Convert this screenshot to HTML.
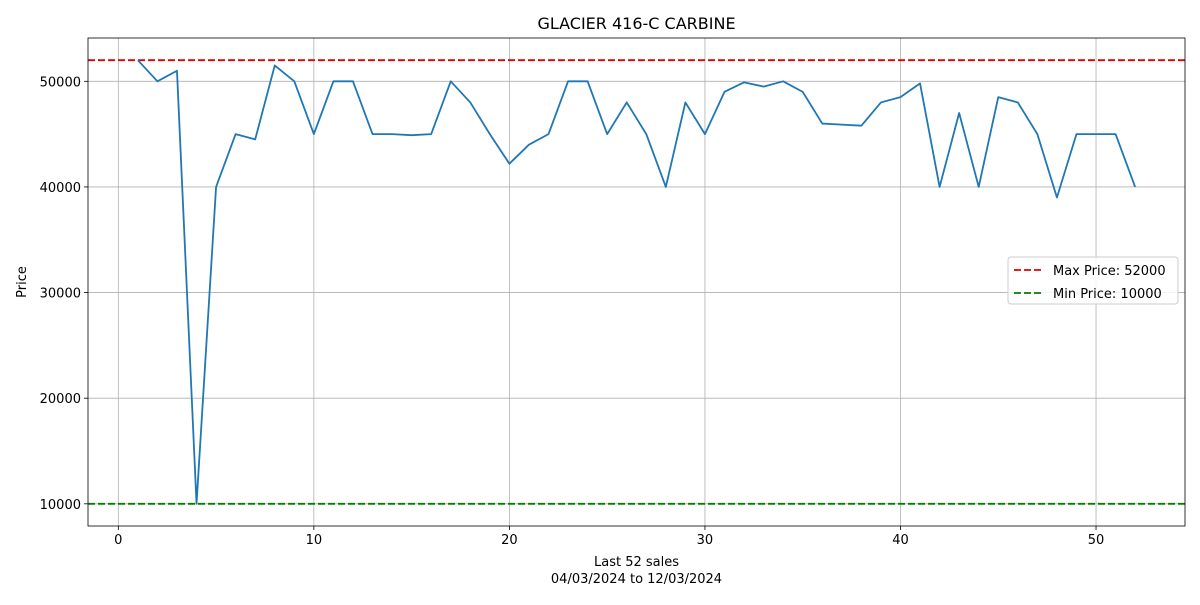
<!DOCTYPE html>
<html><head><meta charset="utf-8"><style>
body{margin:0;background:#fff;font-family:"Liberation Sans","DejaVu Sans",sans-serif;}
svg text{font-family:"DejaVu Sans","Liberation Sans",sans-serif;}
</style></head><body>
<svg id="chart" width="1200" height="600" xmlns="http://www.w3.org/2000/svg"></svg>
<script>
const sales = [1,2,3,4,5,6,7,8,9,10,11,12,13,14,15,16,17,18,19,20,21,22,23,24,25,26,27,28,29,30,31,32,33,34,35,36,37,38,39,40,41,42,43,44,45,46,47,48,49,50,51,52];
const prices = [52000,50000,51000,10000,40000,45000,44500,51500,50000,45000,50000,50000,45000,45000,44900,45000,50000,48000,45000,42200,44000,45000,50000,50000,45000,48000,45000,40000,48000,45000,49000,49900,49500,50000,49000,46000,45900,45800,48000,48500,49800,40000,47000,40000,48500,48000,45000,39000,45000,45000,45000,40000];
const xTicks = [0,10,20,30,40,50];
const yTicks = [10000,20000,30000,40000,50000];
const maxPrice = 52000;
const minPrice = 10000;

const NS="http://www.w3.org/2000/svg";
const svg=document.getElementById('chart');
const L=88,R=1185,T=38,B=526;
const xmin=-1.55,xmax=54.55,ymin=7900,ymax=54100;
const sx=v=>L+(v-xmin)/(xmax-xmin)*(R-L);
const sy=v=>B-(v-ymin)/(ymax-ymin)*(B-T);
function mk(tag,attrs,parent){const e=document.createElementNS(NS,tag);for(const k in attrs)e.setAttribute(k,attrs[k]);(parent||svg).appendChild(e);return e;}
function txt(s,attrs){const e=mk('text',attrs);e.textContent=s;return e;}

xTicks.forEach(v=>{
  const g=mk('line',{x1:sx(v),x2:sx(v),y1:T,y2:B,stroke:'#b0b0b0','stroke-width':0.8});
  
  
  mk('line',{x1:sx(v),x2:sx(v),y1:B,y2:B+4,stroke:'#000','stroke-width':0.8});
  const t=txt(v,{x:sx(v),y:B+18,'text-anchor':'middle','font-size':13});
  
  
});
yTicks.forEach(v=>{
  const g=mk('line',{x1:L,x2:R,y1:sy(v),y2:sy(v),stroke:'#b0b0b0','stroke-width':0.8});
  
  
  mk('line',{x1:L-4,x2:L,y1:sy(v),y2:sy(v),stroke:'#000','stroke-width':0.8});
  const t=txt(v,{x:L-7,y:sy(v)+5,'text-anchor':'end','font-size':13});
  
  
});

const mx=mk('line',{x1:L,x2:R,y1:sy(maxPrice),y2:sy(maxPrice),stroke:'#e00000','stroke-width':1.8,'stroke-dasharray':'7,3'});


const mn=mk('line',{x1:L,x2:R,y1:sy(minPrice),y2:sy(minPrice),stroke:'#008000','stroke-width':1.8,'stroke-dasharray':'7,3'});



const pts=sales.map((s,i)=>sx(s)+','+sy(prices[i])).join(' ');
const line=mk('polyline',{points:pts,fill:'none',stroke:'#1f77b4','stroke-width':1.8,'stroke-linejoin':'round'});



const frame=mk('rect',{x:L,y:T,width:R-L,height:B-T,fill:'none',stroke:'#000','stroke-width':0.8});



const title=txt('GLACIER 416-C CARBINE',{x:(L+R)/2,y:29,'text-anchor':'middle','font-size':16});


const xl1=txt('Last 52 sales',{x:(L+R)/2,y:566,'text-anchor':'middle','font-size':13});


const xl2=txt('04/03/2024 to 12/03/2024',{x:(L+R)/2,y:583,'text-anchor':'middle','font-size':13});


const yl=txt('Price',{x:26,y:(T+B)/2,'text-anchor':'middle','font-size':13,transform:'rotate(-90 26 '+((T+B)/2)+')'});



const lg=mk('g',{});


mk('rect',{x:1008,y:257,width:170,height:47,rx:3,fill:'#fff','fill-opacity':0.85,stroke:'#ccc'},lg);
mk('line',{x1:1014,x2:1042,y1:270,y2:270,stroke:'#e00000','stroke-width':1.8,'stroke-dasharray':'7,3'},lg);
mk('line',{x1:1014,x2:1042,y1:293,y2:293,stroke:'#008000','stroke-width':1.8,'stroke-dasharray':'7,3'},lg);
const le1=mk('text',{x:1053,y:275,'font-size':13},lg);le1.textContent='Max Price: 52000';


const le2=mk('text',{x:1053,y:298,'font-size':13},lg);le2.textContent='Min Price: 10000';


</script>
</body></html>
